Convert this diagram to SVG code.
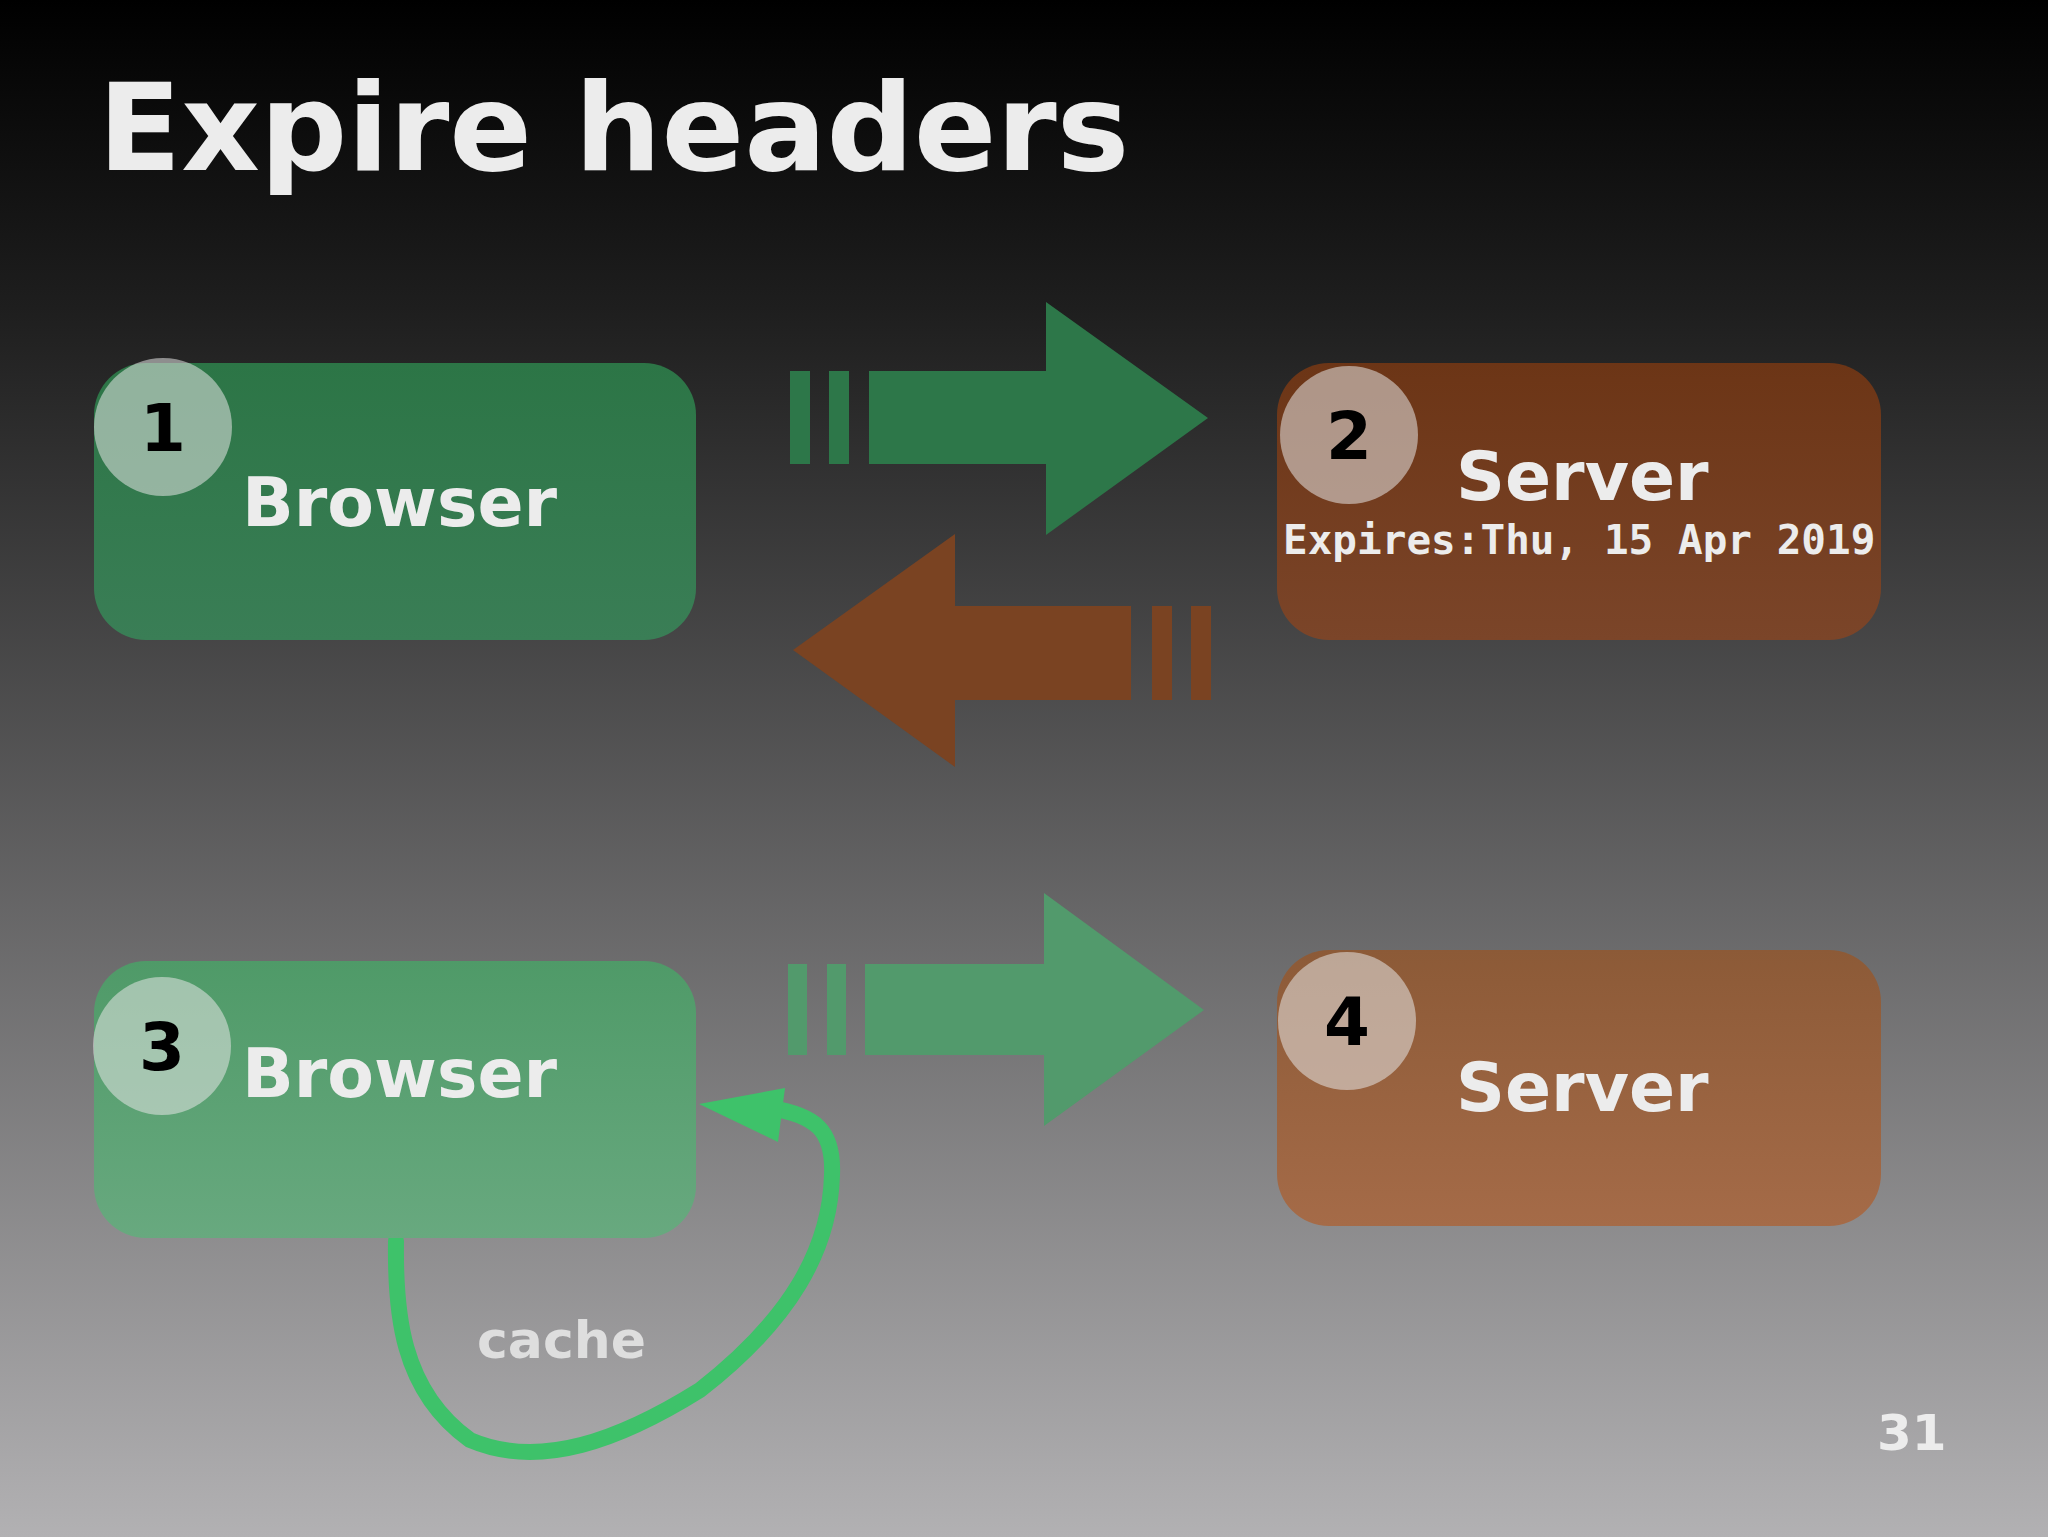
<svg xmlns="http://www.w3.org/2000/svg" width="2048" height="1537" viewBox="0 0 2048 1537">
<defs>
<linearGradient id="bg" x1="0" y1="0" x2="0" y2="1"><stop offset="0" stop-color="#000"/><stop offset="0.2" stop-color="#1e1e1e"/><stop offset="1" stop-color="#b2b1b3"/></linearGradient>
<linearGradient id="g1" x1="0" y1="0" x2="0" y2="1"><stop offset="0" stop-color="#2c7546"/><stop offset="1" stop-color="#3a7e56"/></linearGradient>
<linearGradient id="g3" x1="0" y1="0" x2="0" y2="1"><stop offset="0" stop-color="#4f9a68"/><stop offset="1" stop-color="#68a97f"/></linearGradient>
<linearGradient id="g2" x1="0" y1="0" x2="0" y2="1"><stop offset="0" stop-color="#6c3516"/><stop offset="1" stop-color="#7b4529"/></linearGradient>
<linearGradient id="g4" x1="0" y1="0" x2="0" y2="1"><stop offset="0" stop-color="#8c5a37"/><stop offset="1" stop-color="#a56b48"/></linearGradient>
<style>
.lbl{font-family:"DejaVu Sans",sans-serif;font-weight:bold;font-size:68px;fill:#ececec}
.num{font-family:"DejaVu Sans",sans-serif;font-weight:bold;font-size:66px;fill:#000;text-anchor:middle}
.circ{fill:#e6e6e6;fill-opacity:0.55}
</style>
</defs>
<rect width="2048" height="1537" fill="url(#bg)"/>
<text x="98" y="170" font-family="DejaVu Sans,sans-serif" font-weight="bold" font-size="122" fill="#ececec">Expire headers</text>
<g id="connectors">
<g fill="#2d7749"><rect x="790" y="371" width="20" height="93"/><rect x="829" y="371" width="20" height="93"/><polygon points="869,371 1046,371 1046,302 1208,418 1046,535 1046,464 869,464"/></g>
<g fill="#7a4322"><rect x="1152" y="606" width="20" height="94"/><rect x="1191" y="606" width="20" height="94"/><polygon points="1131,606 955,606 955,534 793,650 955,767 955,700 1131,700"/></g>
<g fill="#529a6c"><rect x="788" y="964" width="19" height="91"/><rect x="827" y="964" width="19" height="91"/><polygon points="865,964 1044,964 1044,893 1204,1010 1044,1126 1044,1055 865,1055"/></g>
<path d="M396,1241 C395,1310 400,1390 470,1440 C540,1470 620,1440 700,1390 C790,1320 830,1250 832,1175 C834,1130 815,1115 770,1108" fill="none" stroke="#3ec26a" stroke-width="16" stroke-linecap="round"/>
<polygon points="699,1104 785,1088 778,1142" fill="#3ec26a"/>
<text x="477" y="1358" font-family="DejaVu Sans,sans-serif" font-weight="bold" font-size="52" fill="#dedede">cache</text>
</g>
<g id="n1"><rect x="94" y="363" width="602" height="277" rx="52" fill="url(#g1)"/><circle cx="163" cy="427" r="69" class="circ"/><text x="163" y="451" class="num">1</text><text x="242" y="526" class="lbl">Browser</text></g>
<g id="n2"><rect x="1277" y="363" width="604" height="277" rx="52" fill="url(#g2)"/><circle cx="1349" cy="435" r="69" class="circ"/><text x="1349" y="459" class="num">2</text><text x="1456" y="500" class="lbl">Server</text><text x="1283" y="554" font-family="DejaVu Sans Mono,monospace" font-weight="bold" font-size="41" fill="#ececec">Expires:Thu, 15 Apr 2019</text></g>
<g id="n3"><rect x="94" y="961" width="602" height="277" rx="52" fill="url(#g3)"/><circle cx="162" cy="1046" r="69" class="circ"/><text x="162" y="1070" class="num">3</text><text x="242" y="1097" class="lbl">Browser</text></g>
<g id="n4"><rect x="1277" y="950" width="604" height="276" rx="52" fill="url(#g4)"/><circle cx="1347" cy="1021" r="69" class="circ"/><text x="1347" y="1045" class="num">4</text><text x="1456" y="1111" class="lbl">Server</text></g>
<text x="1877" y="1450" font-family="DejaVu Sans,sans-serif" font-weight="bold" font-size="50" fill="#ececec">31</text>
</svg>
